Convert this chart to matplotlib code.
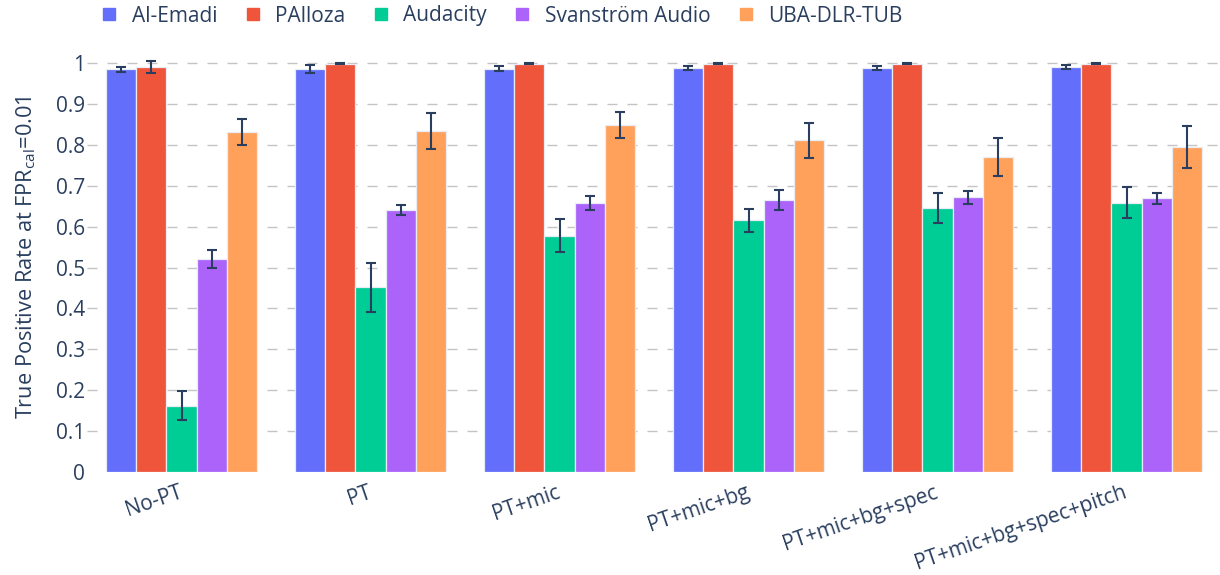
import numpy as np
import matplotlib
matplotlib.use("Agg")
import matplotlib.pyplot as plt
from matplotlib.lines import Line2D

plt.rcParams['font.family'] = ['Open Sans', 'DejaVu Sans']

categories = ["No-PT", "PT", "PT+mic", "PT+mic+bg", "PT+mic+bg+spec", "PT+mic+bg+spec+pitch"]
series = ["Al-Emadi", "PAlloza", "Audacity", "Svanström Audio", "UBA-DLR-TUB"]

al_emadi = [0.985, 0.985, 0.986, 0.988, 0.989, 0.991]
al_emadi_err = [0.006, 0.010, 0.006, 0.006, 0.005, 0.005]
palloza = [0.991, 0.998, 0.998, 0.998, 0.998, 0.998]
palloza_err = [0.015, 0.001, 0.001, 0.001, 0.001, 0.001]
audacity = [0.162, 0.452, 0.578, 0.615, 0.646, 0.659]
audacity_err = [0.035, 0.060, 0.040, 0.028, 0.037, 0.037]
svanstrom = [0.521, 0.640, 0.658, 0.665, 0.672, 0.669]
svanstrom_err = [0.023, 0.012, 0.018, 0.024, 0.016, 0.013]
uba = [0.832, 0.834, 0.848, 0.811, 0.771, 0.795]
uba_err = [0.032, 0.044, 0.032, 0.043, 0.046, 0.052]

values = [al_emadi, palloza, audacity, svanstrom, uba]
errors = [al_emadi_err, palloza_err, audacity_err, svanstrom_err, uba_err]
colors = ["#636EFA", "#EF553B", "#00CC96", "#AB63FA", "#FFA15A"]
text_color = "#2A3F5F"
fs = 15

fig = plt.figure(figsize=(12.2, 5.75), dpi=100)
ax = fig.add_axes([87 / 1220, 1 - 472 / 575, 1134 / 1220, (472 - 42.6) / 575])

x = np.arange(len(categories))
n = len(series)
group_w = 0.8
bw = group_w / n
for i, (vals, errs, c) in enumerate(zip(values, errors, colors)):
    pos = x - group_w / 2 + bw * (i + 0.5)
    ax.bar(pos, vals, width=bw, color=c, edgecolor="#E8ECF4", linewidth=0.9, zorder=2)
    ax.errorbar(pos, vals, yerr=errs, fmt="none", ecolor=text_color,
                elinewidth=1.5, capsize=3.3, capthick=1.5, zorder=3)

ax.set_xlim(-0.5, len(categories) - 0.5)
ax.set_ylim(0, 1.05)
ax.set_yticks(np.round(np.arange(0, 1.01, 0.1), 1))
ax.set_yticklabels(["0"] + [f"{v:.1f}" for v in np.arange(0.1, 0.95, 0.1)] + ["1"])
# dashed horizontal grid (10px dash / 10px gap)
for yv in np.arange(0.1, 1.01, 0.1):
    ax.axhline(yv, color="#C4C4C4", lw=1.0, ls=(0, (7.2, 7.2)), zorder=1)

ax.set_xticks(x)
ax.set_xticklabels(categories, rotation=19, ha="right", va="center",
                   rotation_mode="anchor")
ax.tick_params(axis="x", length=0, pad=14.4, labelsize=fs, labelcolor=text_color)
ax.tick_params(axis="y", length=0, pad=1.5, labelsize=fs, labelcolor=text_color)
for s in ax.spines.values():
    s.set_visible(False)

ax.set_ylabel(r"True Positive Rate at FPR$_{\mathregular{cal}}$=0.01",
              fontsize=15.7, color=text_color, labelpad=13)

handles = [Line2D([], [], marker="s", linestyle="none", markersize=8,
                  markerfacecolor=c, markeredgecolor=c) for c in colors]
fig.legend(handles, series, loc="center left", bbox_to_anchor=(103 / 1220, 1 - 16 / 575),
           ncol=5, frameon=False, fontsize=fs, labelcolor=text_color,
           borderpad=0, borderaxespad=0,
           handlelength=0.6, handletextpad=0.78, columnspacing=1.4)

fig.savefig("out.png", dpi=100, facecolor="white")
